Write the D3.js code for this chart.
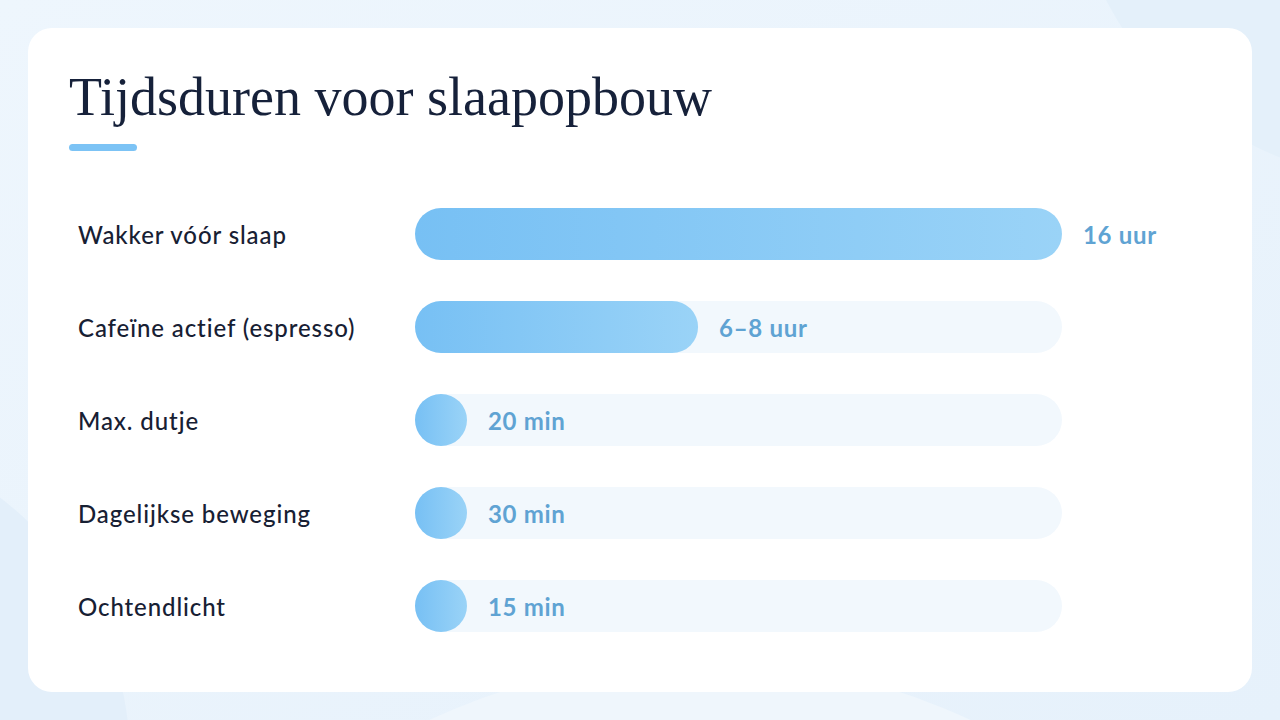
<!DOCTYPE html>
<html><head><meta charset="utf-8">
<script src="https://cdn.jsdelivr.net/npm/d3@7"></script>
<style>html,body{margin:0;padding:0;width:1280px;height:720px;overflow:hidden;background:#eaf4fc;}</style>
</head><body>
<svg id="c" width="1280" height="720"></svg>
<script>
const categories = ["Wakker vóór slaap","Cafeïne actief (espresso)","Max. dutje","Dagelijkse beweging","Ochtendlicht"];
const valuesHours = [16, 7, 20/60, 0.5, 0.25];
const valueLabels = ["16 uur","6–8 uur","20 min","30 min","15 min"];
const title = "Tijdsduren voor slaapopbouw";

const svg = d3.select("#c");
const defs = svg.append("defs");
const g1 = defs.append("linearGradient").attr("id","bg").attr("x1","0").attr("y1","0").attr("x2","1").attr("y2","1");
g1.append("stop").attr("offset","0").attr("stop-color","#eef6fd");
g1.append("stop").attr("offset","1").attr("stop-color","#e6f1fb");
svg.append("rect").attr("width",1280).attr("height",720).attr("fill","url(#bg)");
svg.append("circle").attr("cx",1400).attr("cy",-150).attr("r",330).attr("fill","#e4f0fa");
svg.append("circle").attr("cx",-200).attr("cy",760).attr("r",330).attr("fill","#e3effa");
svg.append("circle").attr("cx",700).attr("cy",1300).attr("r",640).attr("fill","#eff6fc");

svg.append("rect").attr("x",28).attr("y",28).attr("width",1224).attr("height",664).attr("rx",24).attr("fill","#ffffff");

svg.append("text").attr("x",69).attr("y",115).text(title)
  .attr("font-family","'Liberation Serif', 'DejaVu Serif', serif").attr("font-size",54).attr("fill","#16213a");
svg.append("rect").attr("x",69).attr("y",144).attr("width",68).attr("height",7).attr("rx",3.5).attr("fill","#7cc3f5");

const barH = 52;
const x0 = 415, x1 = 1062;
const x = d3.scaleLinear().domain([0,16]).range([0, x1-x0]);
const y = d3.scalePoint().domain(categories).range([234, 606]);

const grad = defs.append("linearGradient").attr("id","bar").attr("gradientUnits","objectBoundingBox").attr("x1","0").attr("x2","1");
grad.append("stop").attr("offset","0").attr("stop-color","#77c0f4");
grad.append("stop").attr("offset","1").attr("stop-color","#9ad3f7");

const rows = svg.selectAll("g.row").data(categories.map((c,i)=>({c, v:valuesHours[i], l:valueLabels[i]})))
  .enter().append("g").attr("class","row");

rows.append("text").attr("x",78).attr("y",d=>y(d.c)+10).text(d=>d.c)
  .attr("font-family","Lato, 'Noto Sans', sans-serif").attr("font-weight",500).attr("font-size",24)
  .attr("letter-spacing",0.9).attr("fill","#172033");

rows.append("rect").attr("x",x0).attr("y",d=>y(d.c)-barH/2).attr("width",x1-x0).attr("height",barH)
  .attr("rx",barH/2).attr("fill","#f2f8fd").attr("opacity",d=>d.v>=16?0:1);

const w = d=>Math.max(barH, x(d.v));
rows.append("rect").attr("x",x0).attr("y",d=>y(d.c)-barH/2).attr("width",w).attr("height",barH)
  .attr("rx",barH/2).attr("fill","url(#bar)");

rows.append("text").attr("x",d=>x0+w(d)+21).attr("y",d=>y(d.c)+10).text(d=>d.l)
  .attr("font-family","Lato, 'Noto Sans', sans-serif").attr("font-weight",700).attr("font-size",24)
  .attr("letter-spacing",0.7).attr("fill","#5fa3d3");
</script>
</body></html>
